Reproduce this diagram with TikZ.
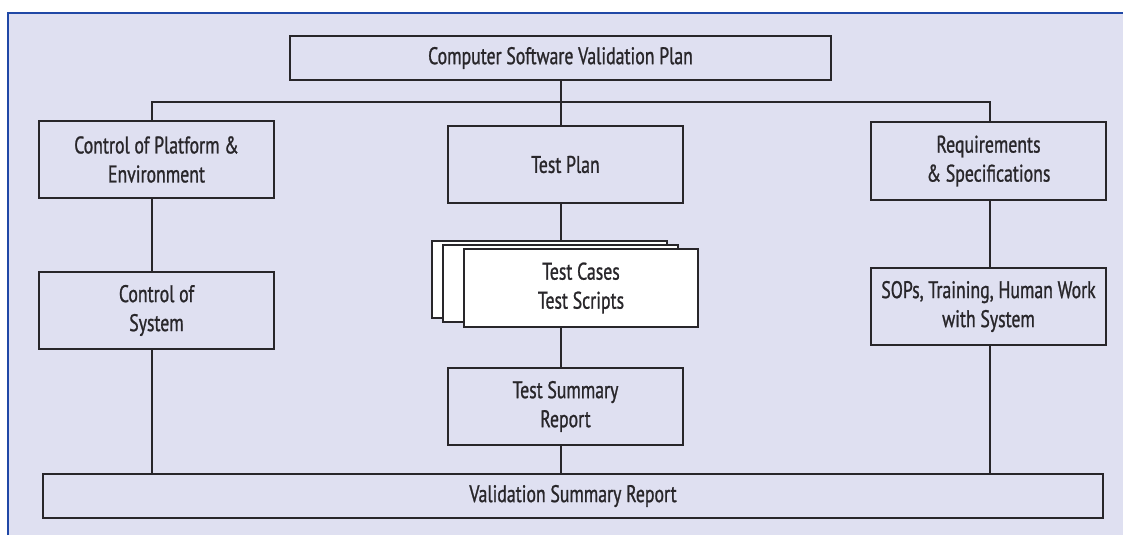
\documentclass[tikz,border=0pt]{standalone}
\usepackage{fontspec}
\setmainfont{PT Sans}[FakeStretch=0.74, FakeBold=1]
\usepackage{tikz}
\usetikzlibrary{positioning}
\definecolor{cvlav}{RGB}{223, 224, 241}
\definecolor{cvblue}{RGB}{32, 72, 166}
\definecolor{cvline}{RGB}{40, 38, 42}

\begin{document}
\begin{tikzpicture}[x=1pt, y=-1pt,
  every node/.style={font=\fontsize{24}{29}\selectfont, text=cvline, align=center},
  box/.style={draw=cvline, line width=1.6pt, inner sep=0pt, minimum width=235pt, minimum height=77pt},
  card/.style={box, fill=white}]
  \useasboundingbox (0,0) rectangle (1123,535);

  % Border
  \fill[cvlav] (8,13) rectangle (1123,535);
  \draw[cvblue, line width=2.6pt] (8,535) -- (8,13) -- (1123,13);

  % Top row
  \node[box, minimum width=541pt, minimum height=44pt] (plan) at (560.5,58) {Computer Software Validation Plan};
  \node[box] (platform) at (156.5,159.5) {Control of Platform \&\\Environment};
  \node[box] (testplan) at (565.5,164.5) {Test Plan};
  \node[box, minimum height=78pt] (reqs) at (988.5,161) {Requirements\\\& Specifications};

  % Middle row
  \node[box] (system) at (156.5,310.5) {Control of\\System};
  \node[card] (cardA) at (549.5,279.5) {};
  \node[card] (cardB) at (560.5,283.5) {};
  \node[card, minimum width=234pt, minimum height=78pt] (cases) at (581,288) {Test Cases\\Test Scripts};
  \node[box] (sops) at (988.5,306.5) {SOPs, Training, Human Work\\with System};

  % Bottom
  \node[box] (summary) at (565.5,406.5) {Test Summary\\Report};
  \node[box, minimum width=1060pt, minimum height=44pt] (report) at (573,496) {Validation Summary Report};

  % Connectors
  \coordinate (bus) at (561,102);
  \coordinate (lx) at (152,102);
  \coordinate (rx) at (990,102);
  \begin{scope}[draw=cvline, line width=1.6pt]
    \draw (plan.south -| bus) -- (bus);
    \draw (lx |- platform.north) -- (lx) -- (rx) -- (rx |- reqs.north);
    \draw (bus) -- (bus |- testplan.north);
    \draw (lx |- platform.south) -- (lx |- system.north);
    \draw (lx |- system.south) -- (lx |- report.north);
    \draw (bus |- testplan.south) -- (bus |- cardA.north);
    \draw (bus |- cases.south) -- (bus |- summary.north);
    \draw (bus |- summary.south) -- (bus |- report.north);
    \draw (rx |- reqs.south) -- (rx |- sops.north);
    \draw (rx |- sops.south) -- (rx |- report.north);
  \end{scope}
\end{tikzpicture}
\end{document}
